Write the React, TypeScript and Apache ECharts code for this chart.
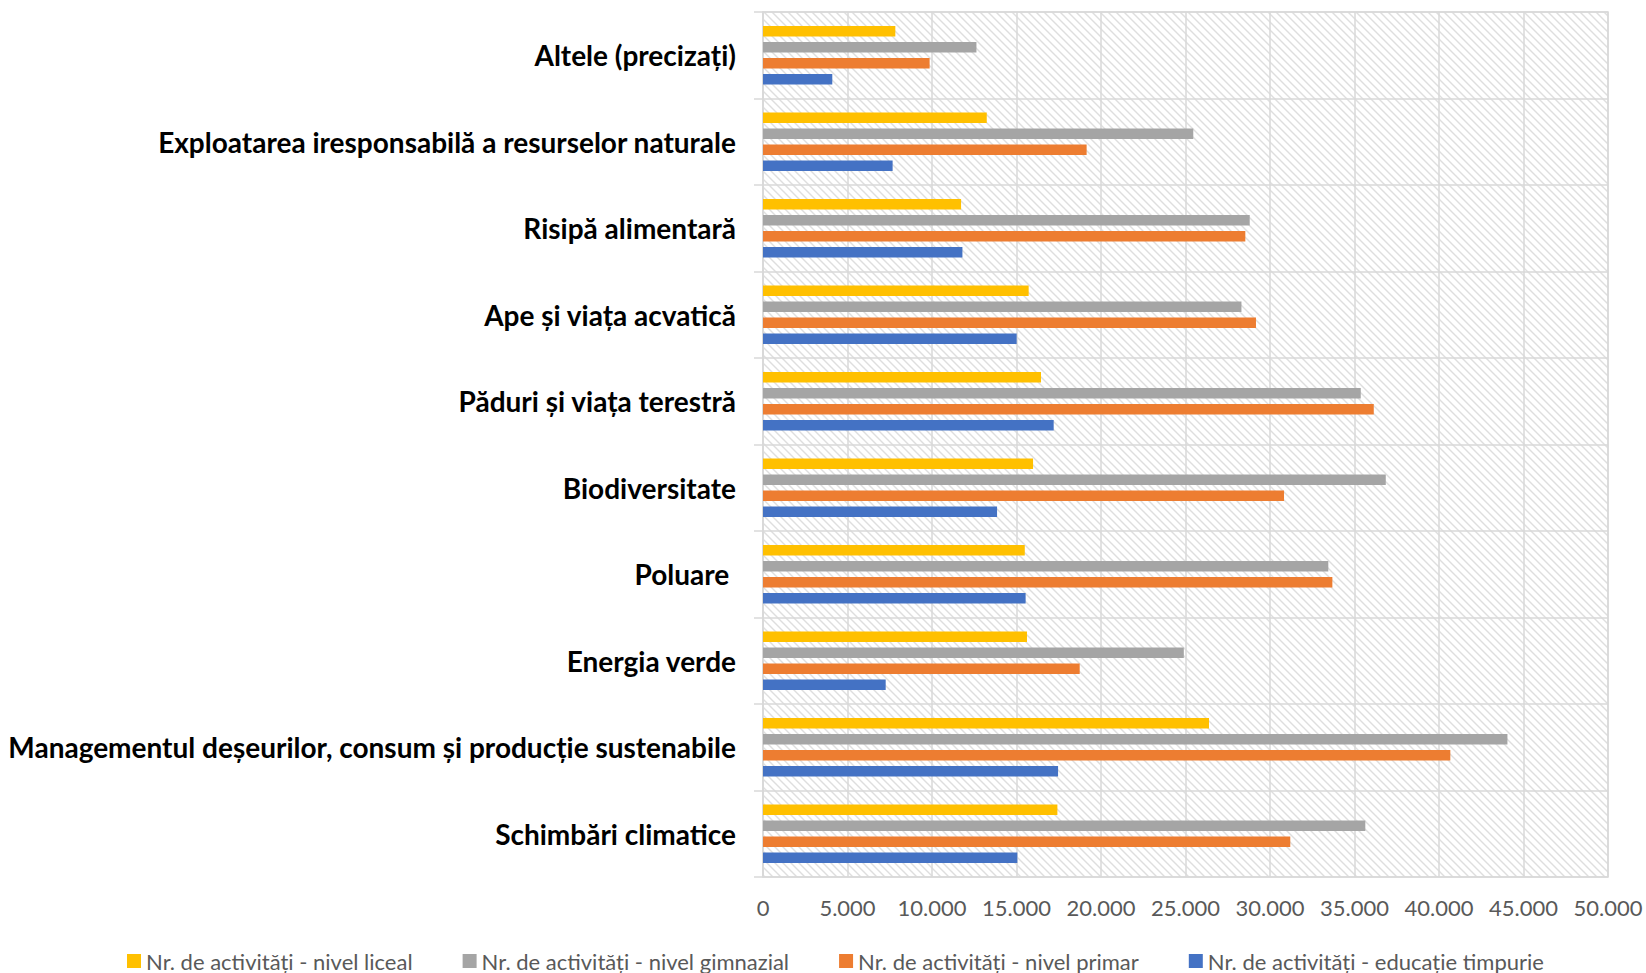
import { useEffect, useRef } from 'react';
import * as echarts from 'echarts';

const categories = [
  'Schimbări climatice',
  'Managementul deșeurilor, consum și producție sustenabile',
  'Energia verde',
  'Poluare ',
  'Biodiversitate',
  'Păduri și viața terestră',
  'Ape și viața acvatică',
  'Risipă alimentară',
  'Exploatarea iresponsabilă a resurselor naturale',
  'Altele (precizați)',
];

const liceal = [17420, 26390, 15620, 15490, 15980, 16450, 15720, 11720, 13240, 7830];
const gimnazial = [35640, 44050, 24900, 33450, 36850, 35370, 28310, 28800, 25460, 12630];
const primar = [31200, 40670, 18740, 33690, 30830, 36140, 29170, 28540, 19150, 9860];
const timpurie = [15050, 17460, 7260, 15540, 13850, 17200, 15010, 11800, 7670, 4100];

const seriesNames = [
  'Nr. de activități - nivel liceal',
  'Nr. de activități - nivel gimnazial',
  'Nr. de activități - nivel primar',
  'Nr. de activități - educație timpurie',
];
const seriesColors = ['#FFC000', '#A5A5A5', '#ED7D31', '#4472C4'];
const seriesData = [liceal, gimnazial, primar, timpurie];

const axisMin = 0;
const axisMax = 50000;
const axisStep = 5000;

const FONT = 'Lato';

const hatchSvg =
  "<svg xmlns='http://www.w3.org/2000/svg' width='8' height='8'>" +
  "<rect width='8' height='8' fill='white'/>" +
  "<path d='M0,0 L8,8 M-2,6 L2,10 M6,-2 L10,2' stroke='#dedede' stroke-width='1.4'/></svg>";
const hatchUrl = 'data:image/svg+xml;charset=utf-8,' + encodeURIComponent(hatchSvg);

function fmt(v: number): string {
  return String(v).replace(/\B(?=(\d{3})+(?!\d))/g, '.');
}

export default function App() {
  const ref = useRef<HTMLDivElement>(null);
  useEffect(() => {
    if (!ref.current) return;
    const chart = echarts.init(ref.current, undefined, { renderer: 'svg' });
    const gridColor = '#d9d9d9';
    chart.setOption({
      animation: false,
      backgroundColor: '#ffffff',
      grid: {
        left: 763,
        top: 12,
        right: 38,
        bottom: 96,
        show: true,
        backgroundColor: {
          image: hatchUrl,
          repeat: 'repeat',
          imageWidth: 8,
          imageHeight: 8,
        } as any,
        borderColor: gridColor,
        borderWidth: 1.5,
      },
      legend: {
        data: seriesNames,
        left: 127,
        top: 950,
        padding: 0,
        icon: 'rect',
        itemWidth: 14,
        itemHeight: 14,
        itemGap: 50,
        textStyle: { fontFamily: FONT, fontSize: 22, color: '#595959', lineHeight: 22 },
      },
      xAxis: {
        type: 'value',
        min: axisMin,
        max: axisMax,
        interval: axisStep,
        axisLine: { show: false },
        axisTick: { show: false },
        splitLine: { show: true, lineStyle: { color: gridColor, width: 1.5 } },
        axisLabel: {
          formatter: (v: number) => fmt(v),
          fontFamily: FONT,
          fontSize: 22,
          color: '#595959',
          margin: 19,
        },
      },
      yAxis: {
        type: 'category',
        data: categories,
        axisLine: { show: true, lineStyle: { color: gridColor, width: 1.5 } },
        axisTick: { show: true, length: 9, lineStyle: { color: gridColor, width: 1.5 } },
        splitLine: { show: true, lineStyle: { color: gridColor, width: 1.5 } },
        axisLabel: {
          fontFamily: FONT,
          fontSize: 28,
          fontWeight: 'bold',
          color: '#000000',
          margin: 27,
          padding: [0, 0, 3, 0],
        },
      },
      series: seriesNames.map((name, i) => ({
        name,
        type: 'bar',
        data: seriesData[i],
        barWidth: 10.5,
        barGap: '52%',
        itemStyle: { color: seriesColors[i] },
      })),
    });
    return () => chart.dispose();
  }, []);
  return (
    <div
      ref={ref}
      style={{ position: 'fixed', left: 0, top: 0, width: 1646, height: 973, background: '#fff' }}
    />
  );
}
